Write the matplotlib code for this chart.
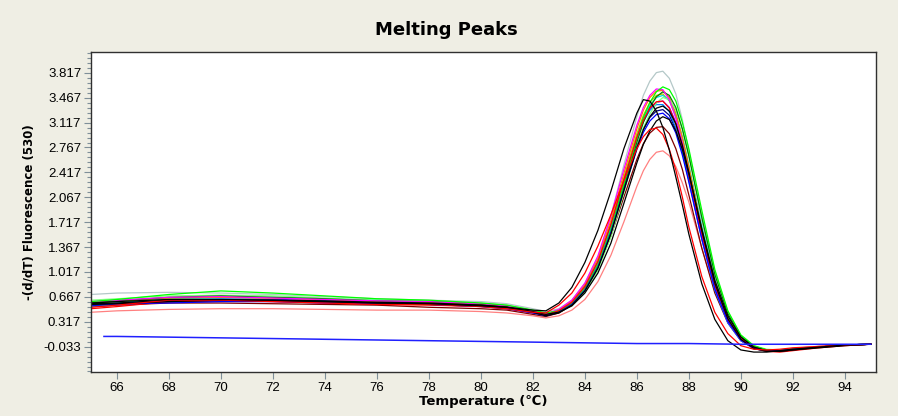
import matplotlib
matplotlib.use("Agg")
import matplotlib.pyplot as plt
from matplotlib.ticker import FixedLocator, AutoMinorLocator


# ----------------------------------------
# DATA
# ----------------------------------------

temps = [
    65, 66, 68, 70, 72, 74, 76, 78, 80, 81, 82,
    82.5, 83, 83.5, 84, 84.5, 85, 85.5,
    86, 86.25, 86.5, 86.75, 87, 87.25, 87.5, 87.75, 88,
    88.5, 89, 89.5, 90, 90.5, 91, 91.5, 92, 93, 94, 95
]

# one list per well, -(d/dT) values read at the temps above
well_gray = [0.70, 0.72, 0.73, 0.72, 0.70, 0.67, 0.64, 0.62, 0.60, 0.57, 0.50,
             0.46, 0.50, 0.62, 0.85, 1.22, 1.80, 2.52,
             3.20, 3.50, 3.70, 3.82, 3.84, 3.74, 3.52, 3.16, 2.72,
             1.75, 0.92, 0.38, 0.08, -0.05, -0.08, -0.08, -0.06, -0.03, -0.01, 0.00]
well_black1 = [0.58, 0.60, 0.63, 0.63, 0.62, 0.60, 0.58, 0.57, 0.54, 0.52, 0.48,
               0.47, 0.58, 0.80, 1.15, 1.60, 2.15, 2.75,
               3.25, 3.44, 3.42, 3.28, 3.05, 2.73, 2.35, 1.96, 1.55,
               0.85, 0.35, 0.05, -0.08, -0.11, -0.11, -0.09, -0.07, -0.04, -0.01, 0.00]
well_red1 = [0.52, 0.55, 0.62, 0.62, 0.60, 0.58, 0.56, 0.56, 0.53, 0.50, 0.45,
             0.44, 0.55, 0.72, 1.00, 1.38, 1.82, 2.30,
             2.75, 2.92, 3.02, 3.04, 2.95, 2.74, 2.45, 2.07, 1.65,
             0.95, 0.45, 0.15, -0.02, -0.07, -0.08, -0.07, -0.05, -0.03, -0.01, 0.00]
well_pink = [0.45, 0.47, 0.49, 0.50, 0.50, 0.49, 0.48, 0.48, 0.46, 0.44, 0.40,
             0.37, 0.40, 0.48, 0.63, 0.88, 1.25, 1.72,
             2.22, 2.44, 2.60, 2.70, 2.72, 2.65, 2.50, 2.27, 2.00,
             1.35, 0.75, 0.32, 0.08, -0.04, -0.08, -0.08, -0.06, -0.03, -0.01, 0.00]
well_brown = [0.53, 0.55, 0.58, 0.58, 0.57, 0.56, 0.55, 0.52, 0.50, 0.48, 0.42,
              0.39, 0.44, 0.55, 0.76, 1.07, 1.52, 2.07,
              2.60, 2.82, 2.97, 3.05, 3.06, 2.96, 2.75, 2.46, 2.10,
              1.35, 0.72, 0.30, 0.05, -0.06, -0.09, -0.09, -0.07, -0.04, -0.01, 0.00]
well_blue = [0.55, 0.57, 0.58, 0.60, 0.60, 0.58, 0.57, 0.56, 0.53, 0.50, 0.44,
             0.40, 0.45, 0.56, 0.76, 1.08, 1.57, 2.17,
             2.74, 2.98, 3.14, 3.23, 3.25, 3.17, 2.97, 2.66, 2.28,
             1.48, 0.78, 0.32, 0.06, -0.05, -0.09, -0.09, -0.07, -0.04, -0.01, 0.00]
well_black2 = [0.57, 0.58, 0.62, 0.62, 0.61, 0.60, 0.58, 0.57, 0.55, 0.52, 0.46,
               0.42, 0.45, 0.54, 0.72, 1.00, 1.42, 1.98,
               2.55, 2.81, 3.00, 3.14, 3.20, 3.16, 3.00, 2.74, 2.40,
               1.62, 0.90, 0.40, 0.10, -0.04, -0.09, -0.10, -0.08, -0.04, -0.01, 0.00]
well_green = [0.58, 0.61, 0.66, 0.68, 0.66, 0.64, 0.61, 0.60, 0.57, 0.54, 0.47,
              0.43, 0.46, 0.56, 0.76, 1.08, 1.57, 2.20,
              2.84, 3.12, 3.33, 3.48, 3.55, 3.50, 3.33, 3.03, 2.65,
              1.78, 0.98, 0.43, 0.11, -0.03, -0.08, -0.09, -0.07, -0.04, -0.01, 0.00]
well_lime = [0.60, 0.63, 0.70, 0.75, 0.72, 0.68, 0.64, 0.62, 0.58, 0.55, 0.48,
             0.44, 0.47, 0.57, 0.78, 1.11, 1.61, 2.25,
             2.90, 3.19, 3.40, 3.55, 3.62, 3.58, 3.42, 3.12, 2.75,
             1.88, 1.05, 0.47, 0.13, -0.02, -0.08, -0.09, -0.07, -0.04, -0.01, 0.00]
well_magenta = [0.60, 0.62, 0.66, 0.67, 0.65, 0.63, 0.61, 0.60, 0.57, 0.54, 0.47,
                0.43, 0.49, 0.62, 0.86, 1.24, 1.80, 2.46,
                3.08, 3.33, 3.50, 3.59, 3.58, 3.44, 3.18, 2.83, 2.40,
                1.52, 0.80, 0.32, 0.06, -0.06, -0.09, -0.09, -0.07, -0.04, -0.01, 0.00]
well_cyan = [0.56, 0.58, 0.64, 0.65, 0.66, 0.64, 0.62, 0.60, 0.57, 0.54, 0.47,
             0.43, 0.47, 0.58, 0.79, 1.13, 1.64, 2.28,
             2.90, 3.17, 3.36, 3.47, 3.50, 3.43, 3.24, 2.92, 2.52,
             1.66, 0.89, 0.38, 0.09, -0.04, -0.08, -0.09, -0.07, -0.04, -0.01, 0.00]
well_orange = [0.59, 0.61, 0.65, 0.66, 0.65, 0.63, 0.60, 0.59, 0.56, 0.53, 0.46,
               0.42, 0.48, 0.61, 0.84, 1.20, 1.74, 2.40,
               3.03, 3.29, 3.47, 3.56, 3.57, 3.47, 3.25, 2.91, 2.50,
               1.62, 0.86, 0.36, 0.07, -0.05, -0.09, -0.09, -0.07, -0.04, -0.01, 0.00]
well_olive = [0.57, 0.60, 0.65, 0.66, 0.65, 0.63, 0.60, 0.59, 0.56, 0.53, 0.47,
              0.42, 0.48, 0.60, 0.82, 1.17, 1.70, 2.35,
              2.96, 3.22, 3.40, 3.50, 3.52, 3.42, 3.21, 2.88, 2.47,
              1.60, 0.84, 0.35, 0.07, -0.05, -0.09, -0.09, -0.07, -0.04, -0.01, 0.00]
well_purple = [0.55, 0.58, 0.62, 0.64, 0.63, 0.62, 0.60, 0.58, 0.55, 0.52, 0.46,
               0.42, 0.47, 0.58, 0.80, 1.14, 1.65, 2.28,
               2.88, 3.14, 3.31, 3.40, 3.42, 3.33, 3.12, 2.80, 2.40,
               1.56, 0.82, 0.34, 0.07, -0.05, -0.09, -0.09, -0.07, -0.04, -0.01, 0.00]
well_navy = [0.54, 0.56, 0.60, 0.61, 0.61, 0.60, 0.58, 0.57, 0.54, 0.51, 0.45,
             0.41, 0.45, 0.56, 0.77, 1.10, 1.60, 2.20,
             2.78, 3.02, 3.19, 3.28, 3.30, 3.22, 3.02, 2.71, 2.33,
             1.52, 0.80, 0.33, 0.06, -0.06, -0.10, -0.10, -0.08, -0.04, -0.01, 0.00]
well_red2 = [0.50, 0.53, 0.60, 0.61, 0.60, 0.58, 0.56, 0.55, 0.53, 0.50, 0.44,
             0.41, 0.47, 0.59, 0.81, 1.16, 1.68, 2.31,
             2.91, 3.15, 3.32, 3.41, 3.42, 3.32, 3.10, 2.78, 2.38,
             1.55, 0.83, 0.35, 0.08, -0.04, -0.10, -0.11, -0.09, -0.05, -0.02, 0.00]
well_lightgreen = [0.62, 0.64, 0.68, 0.69, 0.68, 0.65, 0.62, 0.61, 0.58, 0.55, 0.48,
                   0.43, 0.45, 0.54, 0.73, 1.04, 1.51, 2.13,
                   2.76, 3.04, 3.24, 3.39, 3.47, 3.44, 3.30, 3.02, 2.66,
                   1.82, 1.02, 0.46, 0.13, -0.02, -0.07, -0.08, -0.07, -0.04, -0.01, 0.00]
well_skyblue = [0.53, 0.55, 0.61, 0.63, 0.62, 0.61, 0.59, 0.58, 0.55, 0.52, 0.45,
                0.41, 0.47, 0.59, 0.81, 1.16, 1.67, 2.30,
                2.89, 3.13, 3.29, 3.37, 3.37, 3.27, 3.04, 2.71, 2.30,
                1.47, 0.76, 0.30, 0.05, -0.06, -0.09, -0.09, -0.07, -0.04, -0.01, 0.00]
well_black3 = [0.56, 0.57, 0.60, 0.62, 0.62, 0.61, 0.59, 0.58, 0.55, 0.52, 0.45,
               0.40, 0.44, 0.55, 0.75, 1.07, 1.55, 2.16,
               2.76, 3.02, 3.20, 3.32, 3.35, 3.28, 3.10, 2.80, 2.42,
               1.60, 0.86, 0.36, 0.07, -0.06, -0.10, -0.10, -0.08, -0.05, -0.02, 0.00]

# negative control (no product), nearly flat
ntc_temps = [65.5, 66, 68, 70, 72, 74, 76, 78, 80, 82, 84, 86, 88, 90, 92, 94, 95]
ntc_values = [0.11, 0.11, 0.10, 0.09, 0.08, 0.07, 0.06, 0.05, 0.04, 0.03,
              0.02, 0.01, 0.01, 0.00, 0.00, 0.00, 0.00]

wells = [
    well_gray, well_pink, well_brown, well_olive, well_purple, well_navy,
    well_skyblue, well_cyan, well_orange, well_lightgreen, well_green,
    well_magenta, well_lime, well_red2, well_blue, well_black3, well_black2,
    well_red1, well_black1
]

well_colors = [
    "#b4c8c8", "#ff8080", "#800000", "#c0c000", "#8000ff", "#000080",
    "#0080ff", "#00e0e0", "#ff8000", "#80ff80", "#008000",
    "#ff00ff", "#00ff00", "#ff0000", "#0000ff", "#000000", "#000000",
    "#ff0000", "#000000"
]

y_ticks = [-0.033, 0.317, 0.667, 1.017, 1.367, 1.717, 2.067,
           2.417, 2.767, 3.117, 3.467, 3.817]
x_ticks = [66, 68, 70, 72, 74, 76, 78, 80, 82, 84, 86, 88, 90, 92, 94]


# ----------------------------------------
# MELTING PEAKS CHART
# ----------------------------------------

def plot_melting_peaks():

    bg = "#efeee4"

    fig = plt.figure(figsize=(8.98, 4.16), dpi=100, facecolor=bg)

    ax = fig.add_axes([0.1013, 0.1058, 0.8742, 0.7692])

    ax.set_facecolor("white")

    for values, color in zip(wells, well_colors):
        ax.plot(temps, values, color=color, linewidth=0.9)

    ax.plot(ntc_temps, ntc_values, color="#2020ff", linewidth=1.1)

    ax.set_xlim(65, 95.2)
    ax.set_ylim(-0.39, 4.11)

    ax.xaxis.set_major_locator(FixedLocator(x_ticks))
    ax.yaxis.set_major_locator(FixedLocator(y_ticks))
    ax.yaxis.set_minor_locator(AutoMinorLocator(5))

    ax.set_yticklabels([f"{t:.3f}" for t in y_ticks])
    ax.set_xticklabels([str(t) for t in x_ticks])

    ax.tick_params(axis="both", which="major", direction="out",
                   length=5, width=0.8, color="#7f8f99",
                   labelsize=9.5, pad=2)
    ax.tick_params(axis="y", which="minor", direction="out",
                   length=3, width=0.8, color="#7f8f99")

    for label in ax.get_xticklabels() + ax.get_yticklabels():
        label.set_fontfamily("Liberation Sans")

    for spine in ax.spines.values():
        spine.set_color("#303030")
        spine.set_linewidth(1.0)

    fig.text(0.497, 0.928, "Melting Peaks", ha="center", va="center",
             fontsize=13, fontweight="bold")

    ax.set_xlabel("Temperature (\u2103)", fontsize=9.5,
                  fontweight="bold", labelpad=1)

    ax.set_ylabel("-(d/dT) Fluorescence (530)", fontsize=8.5,
                  fontweight="bold", labelpad=6)

    fig.savefig("out.png", dpi=100, facecolor=bg)


# ----------------------------------------
# MAIN
# ----------------------------------------

if __name__ == "__main__":

    plot_melting_peaks()
